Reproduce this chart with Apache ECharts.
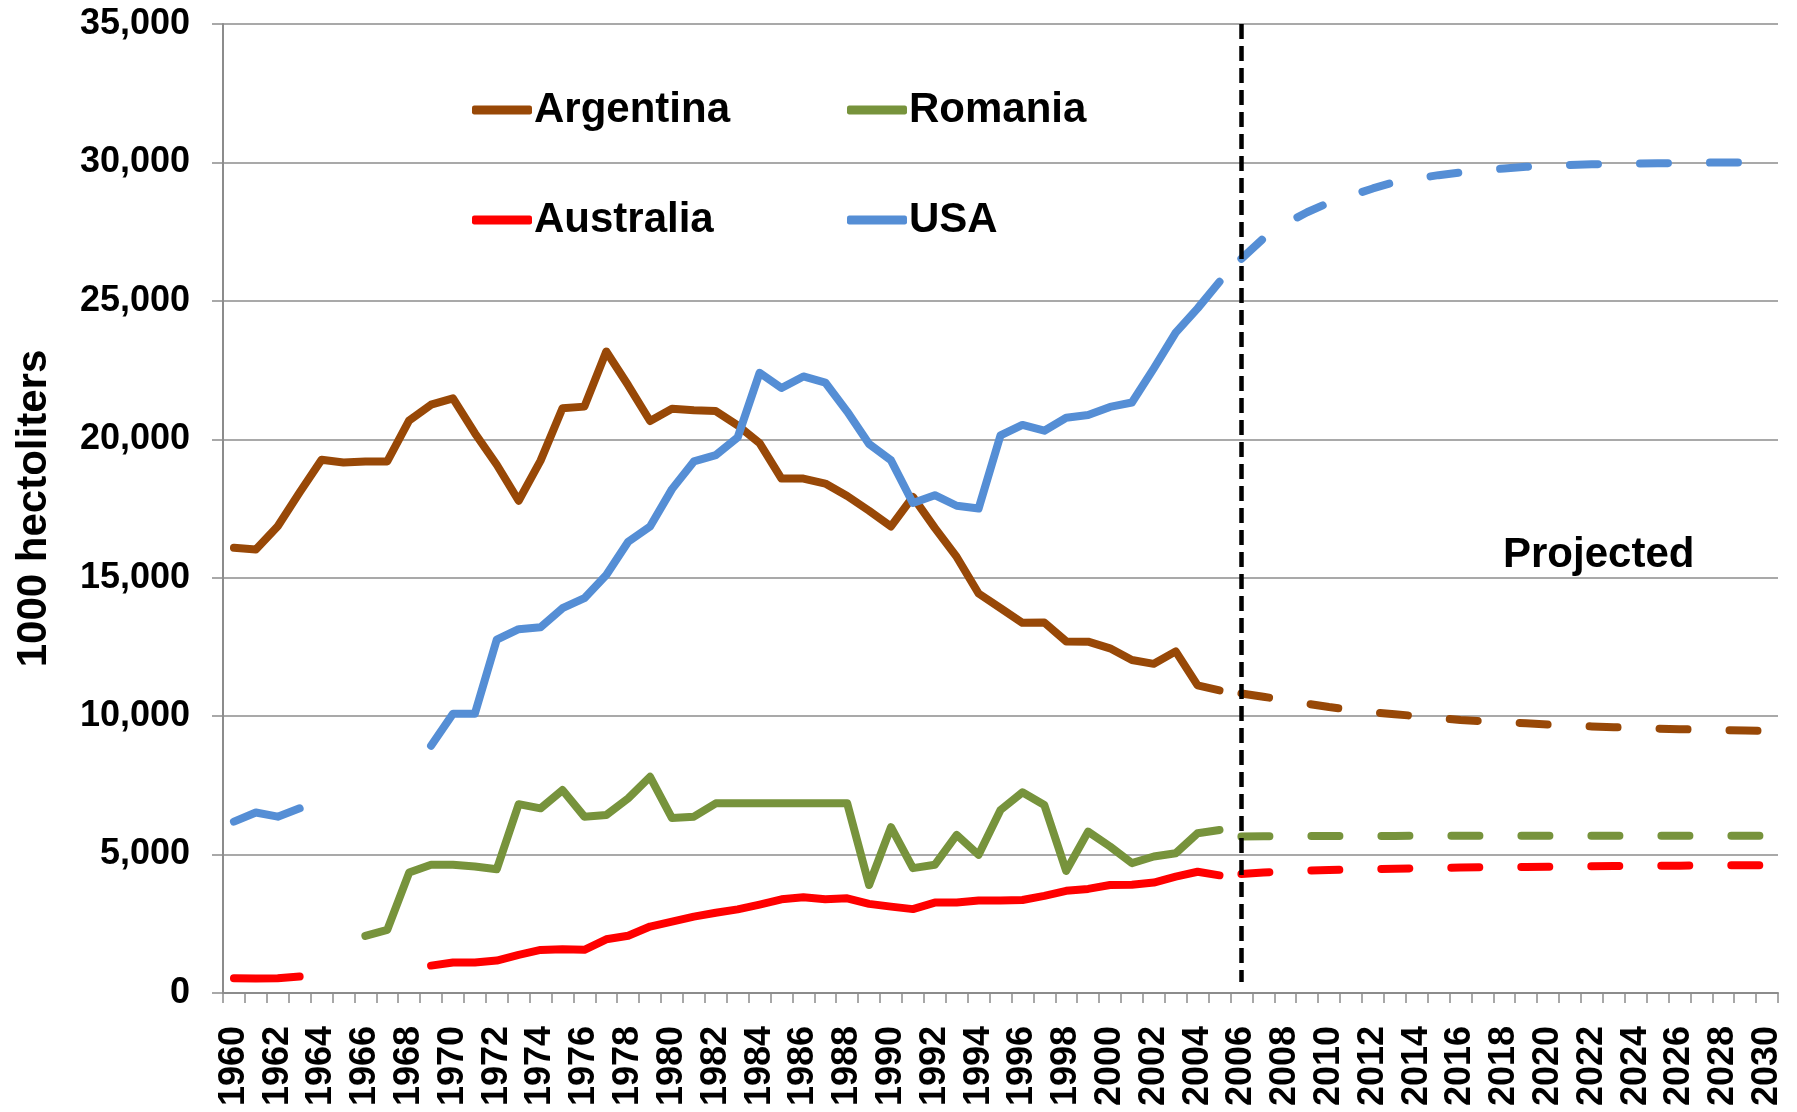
<!DOCTYPE html>
<html>
<head>
<meta charset="utf-8">
<title>Wine production</title>
<script src="https://cdn.jsdelivr.net/npm/echarts@6/dist/echarts.min.js"></script>
<style>
  html, body { margin: 0; padding: 0; background: #fff; }
  #chart { width: 1797px; height: 1112px; }
</style>
</head>
<body>
<div id="chart"></div>
<script>
// categories
var years = ['1960','1961','1962','1963','1964','1965','1966','1967','1968','1969',
  '1970','1971','1972','1973','1974','1975','1976','1977','1978','1979',
  '1980','1981','1982','1983','1984','1985','1986','1987','1988','1989',
  '1990','1991','1992','1993','1994','1995','1996','1997','1998','1999',
  '2000','2001','2002','2003','2004','2005','2006','2007','2008','2009',
  '2010','2011','2012','2013','2014','2015','2016','2017','2018','2019',
  '2020','2021','2022','2023','2024','2025','2026','2027','2028','2029','2030'];

// observed 1960-2005
var argentinaHist = [16080, 16020, 16860, 18080, 19260, 19160, 19200, 19200, 20680, 21250,
  21480, 20220, 19080, 17780, 19230, 21120, 21180, 23170, 21950, 20660,
  21100, 21050, 21020, 20500, 19860, 18580, 18580, 18400, 17950, 17420,
  16850, 17920, 16800, 15750, 14430, 13900, 13370, 13380, 12700, 12690,
  12450, 12030, 11890, 12340, 11110, 10930];
var australiaHist = [535, 525, 535, 595, null, null, null, null, null, 990,
  1100, 1100, 1170, 1380, 1555, 1580, 1560, 1940, 2070, 2400,
  2580, 2760, 2900, 3020, 3195, 3385, 3460, 3390, 3420, 3220,
  3120, 3030, 3265, 3265, 3340, 3340, 3360, 3510, 3690, 3760,
  3900, 3910, 3990, 4200, 4380, 4250];
var romaniaHist = [null, null, null, null, null, null, 2060, 2280, 4350, 4630,
  4630, 4570, 4470, 6820, 6670, 7330, 6370, 6430, 7030, 7810,
  6320, 6370, 6850, 6850, 6850, 6850, 6850, 6850, 6850, 3900,
  5990, 4510, 4630, 5710, 4990, 6610, 7250, 6790, 4410, 5830,
  5290, 4690, 4930, 5050, 5770, 5890];
var usaHist = [6190, 6520, 6370, 6670, null, null, null, null, null, 8930,
  10090, 10090, 12760, 13140, 13210, 13900, 14260, 15100, 16300, 16850,
  18200, 19200, 19430, 20070, 22400, 21850, 22270, 22050, 21000, 19830,
  19240, 17700, 17980, 17600, 17500, 20140, 20520, 20310, 20780, 20880,
  21170, 21330, 22560, 23850, 24730, 25690];

// projected 2006-2030
var argentinaProj = [10820, 10700, 10580, 10450, 10330, 10230, 10140, 10070, 10000, 9930,
  9860, 9820, 9780, 9740, 9700, 9660, 9630, 9600, 9570, 9550,
  9530, 9510, 9490, 9480, 9470];
var australiaProj = [4300, 4350, 4390, 4420, 4440, 4460, 4475, 4490, 4505, 4520,
  4530, 4540, 4550, 4555, 4560, 4570, 4580, 4585, 4590, 4595,
  4600, 4605, 4610, 4612, 4615];
var romaniaProj = [5650, 5660, 5665, 5670, 5670, 5672, 5674, 5675, 5676, 5677,
  5678, 5678, 5679, 5679, 5680, 5680, 5680, 5680, 5680, 5680,
  5680, 5680, 5680, 5680, 5680];
var usaProj = [26520, 27250, 27780, 28200, 28550, 28800, 29060, 29290, 29420, 29540,
  29640, 29720, 29780, 29840, 29880, 29910, 29930, 29950, 29960, 29970,
  29980, 29990, 30000, 30000, 30000];

var projStart = '2006';
var FONT = '"Liberation Sans", Arial, sans-serif';
var GRID_GRAY = '#8c8c8c';

var countries = [
  { name: 'Argentina', color: '#984807', hist: argentinaHist, proj: argentinaProj },
  { name: 'Australia', color: '#ff0000', hist: australiaHist, proj: australiaProj },
  { name: 'Romania', color: '#77933c', hist: romaniaHist, proj: romaniaProj },
  { name: 'USA', color: '#558ed5', hist: usaHist, proj: usaProj }
];

function padAfter(arr, n) {
  return arr.concat(new Array(n - arr.length).fill(null));
}
function padBefore(arr, n) {
  return new Array(n - arr.length).fill(null).concat(arr);
}

var series = [];
countries.forEach(function (c) {
  series.push({
    name: c.name,
    type: 'line',
    data: padAfter(c.hist, years.length),
    color: c.color,
    symbol: 'none',
    connectNulls: false,
    lineStyle: { width: 8, cap: 'round', join: 'round' }
  });
});
countries.forEach(function (c) {
  series.push({
    name: c.name + ' projected',
    type: 'line',
    data: padBefore(c.proj, years.length),
    color: c.color,
    symbol: 'none',
    lineStyle: { width: 8, cap: 'round', join: 'round', type: [28, 42], dashOffset: 0 }
  });
});
// vertical divider between observed and projected
series[series.length - 1].markLine = {
  silent: true,
  symbol: ['none', 'none'],
  label: { show: false },
  z: 10,
  lineStyle: { color: '#000', width: 4.5, type: [15, 7] },
  data: [[{ coord: [projStart, 35000] }, { coord: [projStart, 400] }]]
};

function legendAt(name, left, top) {
  return {
    data: [{ name: name, icon: 'roundRect' }],
    left: left,
    top: top,
    padding: 0,
    itemWidth: 60,
    itemHeight: 9,
    itemGap: 0,
    selectedMode: false,
    textStyle: { fontSize: 42, fontWeight: 'bold', color: '#000', fontFamily: FONT, padding: [0, 0, 0, -3] }
  };
}

var chart = echarts.init(document.getElementById('chart'));
chart.setOption({
  animation: false,
  backgroundColor: '#fff',
  textStyle: { fontFamily: FONT },
  title: {
    text: 'Projected',
    left: 1503,
    top: 534,
    padding: 0,
    textStyle: { fontSize: 42, fontWeight: 'bold', color: '#000', fontFamily: FONT }
  },
  legend: [
    legendAt('Argentina', 472, 89),
    legendAt('Romania', 847, 89),
    legendAt('Australia', 472, 199),
    legendAt('USA', 847, 199)
  ],
  grid: { left: 223, right: 19, top: 24, bottom: 119, containLabel: false },
  xAxis: {
    type: 'category',
    data: years,
    boundaryGap: true,
    axisLine: { lineStyle: { color: GRID_GRAY, width: 2 } },
    axisTick: { show: true, interval: 0, length: 10, lineStyle: { color: GRID_GRAY, width: 1.5 } },
    axisLabel: {
      interval: 1,
      rotate: 90,
      margin: 33,
      fontSize: 36,
      fontWeight: 'bold',
      color: '#000',
      fontFamily: FONT
    },
    splitLine: { show: false }
  },
  yAxis: {
    type: 'value',
    min: 0,
    max: 35000,
    interval: 5000,
    name: '1000 hectoliters',
    nameLocation: 'middle',
    nameRotate: 90,
    nameGap: 168,
    nameTextStyle: { fontSize: 42, fontWeight: 'bold', color: '#000', fontFamily: FONT },
    axisLine: { show: true, lineStyle: { color: GRID_GRAY, width: 2 } },
    axisTick: { show: true, length: 11, lineStyle: { color: GRID_GRAY, width: 1.5 } },
    axisLabel: {
      margin: 33,
      fontSize: 36,
      fontWeight: 'bold',
      color: '#000',
      fontFamily: FONT,
      formatter: function (v) { return v.toLocaleString('en-US'); }
    },
    splitLine: { show: true, lineStyle: { color: GRID_GRAY, width: 1.5 } }
  },
  series: series
});
</script>
</body>
</html>
